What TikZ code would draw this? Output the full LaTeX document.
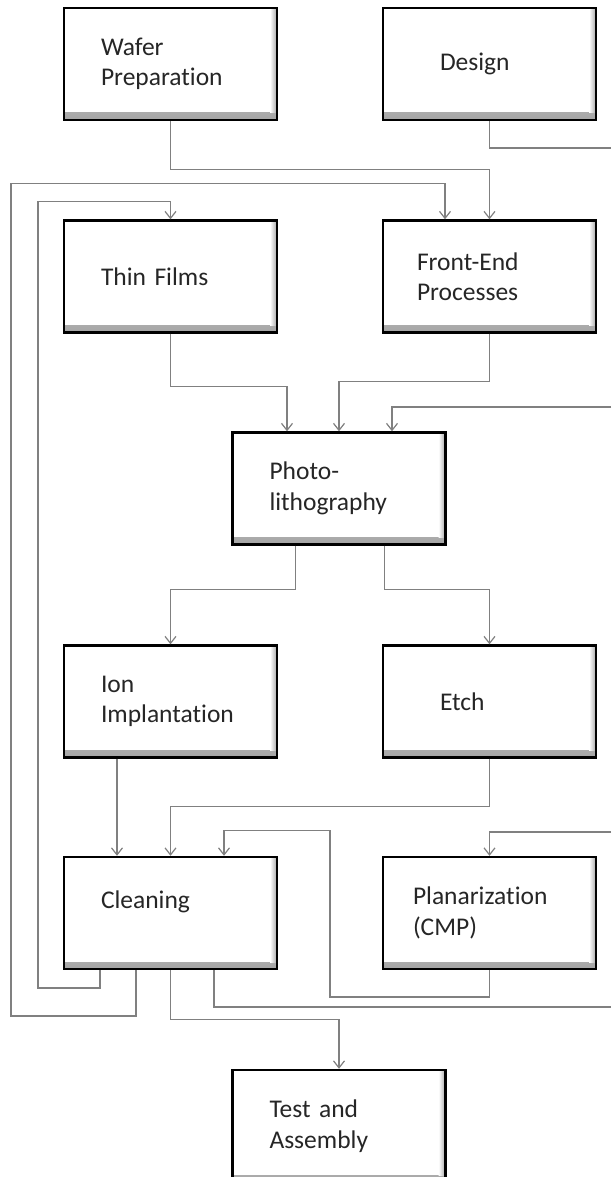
\documentclass[tikz,border=0pt]{standalone}
\usepackage{fontspec}
\setmainfont{Carlito}[Ligatures=NoCommon]
\usetikzlibrary{arrows.meta, calc}
\definecolor{linegray}  {RGB}{128, 128, 128}
\definecolor{bevelgray} {RGB}{165, 165, 165}

\begin{document}
\begin{tikzpicture}[x=1pt, y=-1pt,
	stepbox/.style={draw=black, line width=2.4pt, fill=white,
		minimum width=213pt, minimum height=112pt, text width=139pt,
		inner xsep=37pt, inner ysep=0pt, align=left, text=black!85,
		font=\fontsize{25.5}{30.5}\selectfont,
		path picture={
			\shade[top color=white, bottom color=bevelgray] ([yshift=7pt]path picture bounding box.south west) rectangle (path picture bounding box.south east);
			\shade[left color=white, right color=bevelgray] ([xshift=-7pt]path picture bounding box.north east) rectangle ([yshift=7pt]path picture bounding box.south east);
		}},
	flow/.style={draw=linegray, line width=1.2pt, -{Straight Barb[length=7pt,width=11pt]}},
	plain/.style={draw=linegray, line width=1.2pt}]
	\useasboundingbox (0,0) rectangle (611,1177);
	\fill[white] (0,0) rectangle (611,1177);

	\node[stepbox] (wafer) at (170.5,64) {Wafer\\Preparation};
	\node[stepbox, inner xsep=57pt, text width=99pt] (design) at (489.5,64) {Design};
	\node[stepbox] (thin) at (170.5,276.5) {Thin Films};
	\node[stepbox, inner xsep=34pt, text width=145pt] (front) at (489.5,276.5) {Front-End\\Processes};
	\node[stepbox] (photo) at (339,488.5) {Photo-\\lithography};
	\node[stepbox] (ion) at (170.5,701.5) {Ion\\Implantation};
	\node[stepbox, inner xsep=57pt, text width=99pt] (etch) at (489.5,701.5) {Etch};
	\node[stepbox, text depth=27pt] (clean) at (170.5,913) {Cleaning};
	\node[stepbox, inner xsep=30pt, text width=153pt] (cmp) at (489.5,913) {Planarization\\(CMP)};
	\node[stepbox] (test) at (339,1126) {Test and\\Assembly};

	\coordinate (designout) at (611,148);
	\coordinate (photoin) at (611,407);
	\coordinate (cmpin) at (611,832);
	\coordinate (cleanout) at (611,1007);

	\draw[flow] (wafer.south) |- ([yshift=49.5pt]front.north) -- (front.north);
	\draw[plain] (design.south) |- (designout);
	\draw[flow] ([xshift=-34.5pt]clean.south) |- (11,1016) |- ([xshift=-44.5pt,yshift=35.5pt]front.north) -- ([xshift=-44.5pt]front.north);
	\draw[flow] ([xshift=-70.5pt]clean.south) |- (38,988) |- ([yshift=17.5pt]thin.north) -- (thin.north);
	\draw[flow] (thin.south) |- ([xshift=-52pt,yshift=45pt]photo.north) -- ([xshift=-52pt]photo.north);
	\draw[flow] (front.south) |- ([yshift=50pt]photo.north) -- (photo.north);
	\draw[flow] (photoin) -| ([xshift=53pt]photo.north);
	\draw[flow] ([xshift=-43.5pt]photo.south) |- ([yshift=55pt]ion.north) -- (ion.north);
	\draw[flow] ([xshift=45.5pt]photo.south) |- ([yshift=55pt]etch.north) -- (etch.north);
	\draw[flow] ([xshift=-53.5pt]ion.south) -- ([xshift=-53.5pt]clean.north);
	\draw[flow] (etch.south) |- ([yshift=49pt]clean.north) -- (clean.north);
	\draw[flow] (cmp.south) |- (330,997) |- ([xshift=53.5pt,yshift=25pt]clean.north) -- ([xshift=53.5pt]clean.north);
	\draw[flow] (cmpin) -| (cmp.north);
	\draw[plain] ([xshift=43.5pt]clean.south) |- (cleanout);
	\draw[flow] (clean.south) |- ([yshift=49pt]test.north) -- (test.north);
\end{tikzpicture}
\end{document}
